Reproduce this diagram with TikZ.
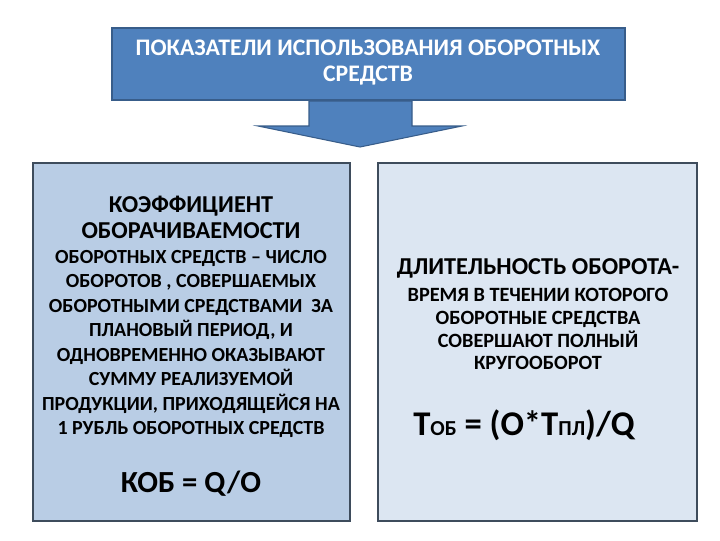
\documentclass[tikz,border=0pt]{standalone}
\usepackage{fontspec}
\setmainfont{Carlito}
\definecolor{topblue}{HTML}{4F81BD}
\definecolor{topline}{HTML}{385D8A}
\definecolor{leftfill}{HTML}{B9CDE5}
\definecolor{rightfill}{HTML}{DCE6F2}
\definecolor{boxline}{HTML}{3E4C5C}
\tikzset{
  headbox/.style={draw=topline, fill=topblue, line width=1.2pt},
  infobox/.style={draw=boxline, line width=1.8pt},
  txt/.style={align=center, inner sep=0pt, text=black, font=\bfseries},
}
\newcommand{\fs}[2]{\fontsize{#1}{#2}\selectfont}
\begin{document}
\begin{tikzpicture}[x=0.75pt, y=-0.75pt]
    \useasboundingbox (0,0) rectangle (720,540);

    % Top box
    \draw[headbox] (112,28) rectangle (625,100);
    \node[txt, text=white, font=\bfseries\fs{17.8}{19.5}] (title) at (368,63)
        {ПОКАЗАТЕЛИ ИСПОЛЬЗОВАНИЯ ОБОРОТНЫХ\\СРЕДСТВ};

    % Block arrow
    \draw[headbox, line width=0.8pt] (309,101) -- (309,126) -- (258,126) -- (360,147)
        -- (462,126) -- (412,126) -- (412,101) -- cycle;

    % Left box
    \draw[infobox, fill=leftfill] (33,163) rectangle (350,521);
    \node[txt, font=\bfseries\fs{18.2}{19.5}] (lhead) at (191,217)
        {КОЭФФИЦИЕНТ\\ОБОРАЧИВАЕМОСТИ};
    \node[txt, font=\bfseries\fs{15}{18.4}] (lbody) at (191,344)
        {ОБОРОТНЫХ СРЕДСТВ – ЧИСЛО\\ОБОРОТОВ , СОВЕРШАЕМЫХ\\ОБОРОТНЫМИ СРЕДСТВАМИ~~ЗА\\
         ПЛАНОВЫЙ ПЕРИОД, И\\ОДНОВРЕМЕННО ОКАЗЫВАЮТ\\СУММУ РЕАЛИЗУЕМОЙ\\
         ПРОДУКЦИИ, ПРИХОДЯЩЕЙСЯ НА\\1 РУБЛЬ ОБОРОТНЫХ СРЕДСТВ};
    \node[txt, font=\bfseries\fs{23}{28}] (lform) at (191,484) {КОБ = Q/O};

    % Right box
    \draw[infobox, fill=rightfill] (378,163) rectangle (697,521);
    \node[txt, font=\bfseries\fs{18.2}{19}] (rhead) at (538,268)
        {ДЛИТЕЛЬНОСТЬ ОБОРОТА-};
    \node[txt, font=\bfseries\fs{15.2}{17.2}] (rbody) at (538,329)
        {ВРЕМЯ В ТЕЧЕНИИ КОТОРОГО\\ОБОРОТНЫЕ СРЕДСТВА\\СОВЕРШАЮТ ПОЛНЫЙ\\КРУГООБОРОТ};
    \node[txt, font=\bfseries\fs{26}{30}] (rform) at (524,425)
        {Т{\fs{16}{16}ОБ} = (О*Т{\fs{16}{16}ПЛ})/Q};
\end{tikzpicture}
\end{document}
